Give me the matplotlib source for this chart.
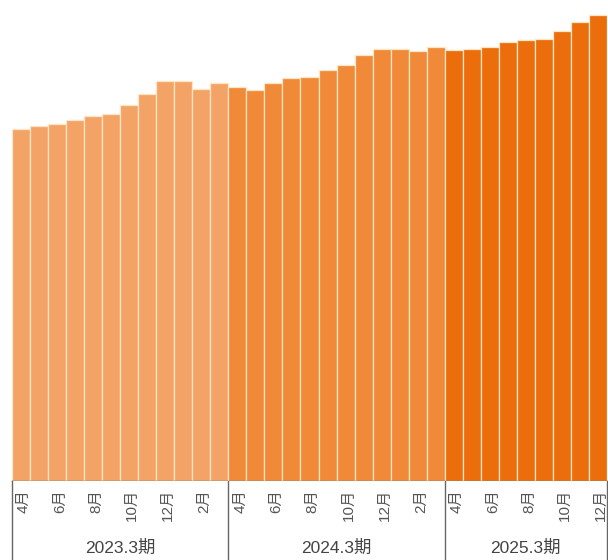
import matplotlib.pyplot as plt
import matplotlib.transforms as mtransforms

# monthly values (no y scale shown, read as bar heights)
values_2023 = [352, 355, 357, 361, 365, 367, 376, 387, 400, 400, 392, 398]
values_2024 = [394, 391, 398, 403, 404, 411, 416, 426, 432, 432, 430, 434]
values_2025 = [431, 432, 434, 439, 441, 442, 450, 459, 466]

months = ['4月', '5月', '6月', '7月', '8月', '9月', '10月', '11月', '12月', '1月', '2月', '3月']
periods = ['2023.3期', '2024.3期', '2025.3期']
period_colors = ['#F4A366', '#F08A38', '#EB6D0B']

FONT = ['Liberation Sans', 'Noto Sans CJK JP']

groups = [values_2023, values_2024, values_2025]

fig = plt.figure(figsize=(6.08, 5.6), dpi=100)
W, H = 608, 560
ax = fig.add_axes([12 / W, 79 / H, 595 / W, 481 / H])
ax_lab = fig.add_axes([12 / W, 0, 595 / W, 79 / H])

n_total = sum(len(g) for g in groups)
start = 0
for vals, color, period in zip(groups, period_colors, periods):
    xs = list(range(start, start + len(vals)))
    ax.bar(xs, vals, width=1.0, color=color, edgecolor='#FCE6C6', linewidth=0.9)

    # month labels, every other month
    offset = mtransforms.ScaledTranslation(3 / 100, 0, fig.dpi_scale_trans)
    for i, x in enumerate(xs):
        if i % 2 == 0:
            ax_lab.text(x, 0.9, months[i], rotation=90, ha='center', va='top',
                        fontsize=11, color='#555555', family=FONT,
                        transform=ax_lab.transData + offset)

    center = start + (len(vals) - 1) / 2
    ax_lab.text(center, 0.15, period, ha='center', va='center',
                fontsize=12.5, color='#444444', family=FONT)

    if start > 0:
        ax_lab.axvline(start - 0.5, color='#666666', linewidth=1)
    start += len(vals)

ax.set_xlim(-0.5, n_total - 0.5)
ax.set_ylim(0, 481)
ax.set_xticks([])
ax.set_yticks([])
for side in ['top', 'left', 'right']:
    ax.spines[side].set_visible(False)
ax.spines['bottom'].set_color('#555555')
ax.spines['bottom'].set_linewidth(1)

ax_lab.set_xlim(-0.5, n_total - 0.5)
ax_lab.set_ylim(0, 1)
ax_lab.set_xticks([])
ax_lab.set_yticks([])
for side in ['top', 'bottom']:
    ax_lab.spines[side].set_visible(False)
for side in ['left', 'right']:
    ax_lab.spines[side].set_color('#666666')
    ax_lab.spines[side].set_linewidth(1)

fig.savefig('out.png', dpi=100)
